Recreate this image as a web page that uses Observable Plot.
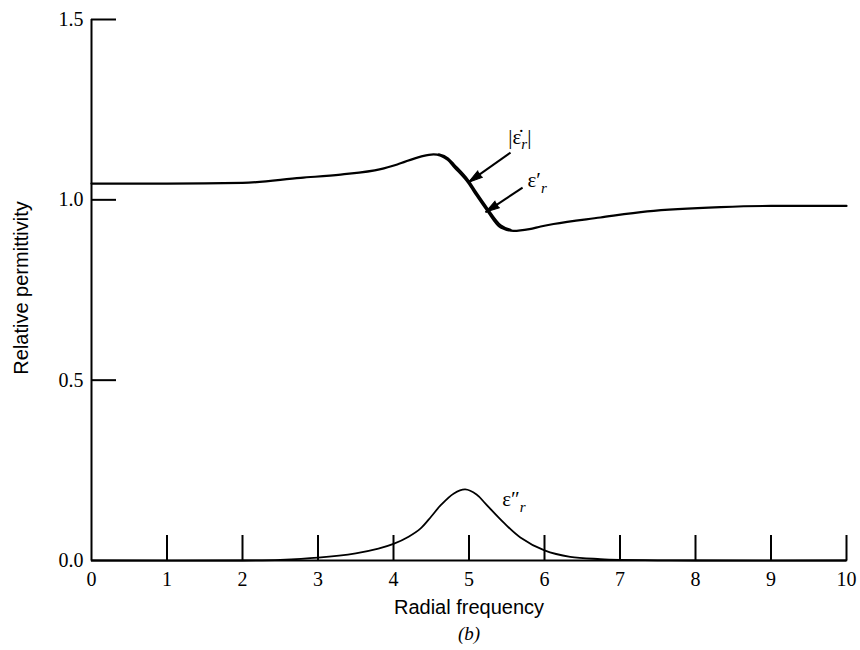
<!DOCTYPE html>
<html>
<head>
<meta charset="utf-8">
<script src="https://cdn.jsdelivr.net/npm/d3@7"></script>
<script src="https://cdn.jsdelivr.net/npm/@observablehq/plot@0.6"></script>
<style>
  body { margin: 0; background: #fff; }
  #chart { width: 860px; height: 650px; }
</style>
</head>
<body>
<div id="chart"></div>
<script>
// ---- data ----
const xTickValues = [1, 2, 3, 4, 5, 6, 7, 8, 9, 10];
const xTickLabels = [0, 1, 2, 3, 4, 5, 6, 7, 8, 9, 10];
const yTickValues = [0.5, 1.0, 1.5];
const yTickLabels = [0.0, 0.5, 1.0, 1.5];

// real part of relative permittivity (eps'_r)
const primeX = [0, 1, 2, 2.77, 3.3, 3.83, 4.05, 4.36, 4.53, 4.72, 4.8, 4.99, 5.1, 5.24, 5.42, 5.59, 5.8, 5.95, 6.12, 6.74, 7.36, 8.33, 9, 10];
const primeY = [1.045, 1.045, 1.047, 1.061, 1.070, 1.085, 1.098, 1.120, 1.126, 1.111, 1.092, 1.047, 1.012, 0.970, 0.923, 0.914, 0.919, 0.926, 0.933, 0.951, 0.968, 0.980, 0.983, 0.983];

// magnitude |eps_r| (separates slightly from eps'_r near resonance)
const absX = [4.6, 4.72, 4.8, 4.99, 5.1, 5.24, 5.42, 5.55];
const absY = [1.126, 1.115, 1.098, 1.054, 1.019, 0.977, 0.929, 0.917];

// imaginary part (eps''_r)
const lossX = [0, 2, 2.5, 3, 3.5, 3.8, 4, 4.2, 4.36, 4.5, 4.62, 4.8, 4.95, 5.1, 5.23, 5.46, 5.68, 6, 6.34, 6.74, 7, 7.5, 8, 10];
const lossY = [0, 0, 0.002, 0.008, 0.02, 0.033, 0.046, 0.066, 0.089, 0.122, 0.152, 0.186, 0.197, 0.183, 0.155, 0.105, 0.064, 0.028, 0.010, 0.004, 0.002, 0.0005, 0, 0];

// annotations
const labelTexts = ["|ε̇r|", "ε′r", "ε″r"];
const labelX = [5.52, 5.775, 5.44];
const labelY = [1.174, 1.055, 0.170];

const arrowX1 = [5.55, 5.71];
const arrowY1 = [1.131, 1.034];
const arrowX2 = [4.996, 5.22];
const arrowY2 = [1.049, 0.966];

const xTitle = "Radial frequency";
const yTitle = "Relative permittivity";
const caption = "(b)";

// ---- build tables ----
const primeData = primeX.map((x, i) => ({x, y: primeY[i]}));
const absData = absX.map((x, i) => ({x, y: absY[i]}));
const lossData = lossX.map((x, i) => ({x, y: lossY[i]}));
const labelData = labelTexts.map((t, i) => ({t, x: labelX[i], y: labelY[i]}));

const width = 860, height = 650;
const mTop = 19, mBottom = 90, mLeft = 91, mRight = 14;
const tickLenPx = 25;
const yPerPx = 1.5 / (height - mTop - mBottom);
const xPerPx = 10 / (width - mLeft - mRight);

const arrowData = arrowX1.map((x1, i) => {
  const d = {x1, y1: arrowY1[i], x2: arrowX2[i], y2: arrowY2[i]};
  const px = (d.x2 - d.x1) / xPerPx, py = -(d.y2 - d.y1) / yPerPx;
  d.angle = Math.atan2(px, -py) * 180 / Math.PI;
  return d;
});

const serif = "'Liberation Serif', 'DejaVu Serif', 'Times New Roman', serif";
const sans = "'Liberation Sans', Arial, Helvetica, sans-serif";

const plot = Plot.plot({
  width, height,
  marginTop: mTop, marginBottom: mBottom, marginLeft: mLeft, marginRight: mRight,
  style: {fontFamily: serif, background: "#fff", color: "#000"},
  x: {domain: [0, 10]},
  y: {domain: [0, 1.5]},
  marks: [
    // axis lines
    Plot.ruleY([0], {x1: 0, x2: 10, strokeWidth: 2}),
    Plot.ruleX([0], {y1: 0, y2: 1.5, strokeWidth: 2}),
    // inward ticks
    Plot.ruleX(xTickValues, {x: d => d, y1: 0, y2: tickLenPx * yPerPx, strokeWidth: 2}),
    Plot.ruleY(yTickValues, {y: d => d, x1: 0, x2: tickLenPx * xPerPx, strokeWidth: 2}),
    // tick labels
    Plot.axisX({ticks: xTickLabels, tickSize: 0, tickPadding: 11, fontSize: 20, fontFamily: serif, tickFormat: d3.format("d")}),
    Plot.axisY({ticks: yTickLabels, tickSize: 0, tickPadding: 8, fontSize: 20, fontFamily: serif, tickFormat: d3.format(".1f"), label: null}),
    // curves
    Plot.line(lossData, {x: "x", y: "y", curve: "catmull-rom", strokeWidth: 1.8}),
    Plot.line(primeData, {x: "x", y: "y", curve: "monotone-x", strokeWidth: 2.2}),
    Plot.line(absData, {x: "x", y: "y", curve: "monotone-x", strokeWidth: 2.2}),
    // arrows: shaft + filled head
    Plot.link(arrowData, {x1: "x1", y1: "y1", x2: "x2", y2: "y2", strokeWidth: 2}),
    Plot.vector(arrowData, {x: "x2", y: "y2", rotate: "angle", length: 14, anchor: "end", shape: "spike", r: 4, fill: "#000", fillOpacity: 1, stroke: "#000", strokeWidth: 1}),
    // curve labels
    Plot.text(labelData, {x: "x", y: "y", text: "t", textAnchor: "start", fontSize: 21, fontFamily: serif}),
    // axis titles & caption
    Plot.text([yTitle], {frameAnchor: "left", textAnchor: "middle", lineAnchor: "middle", dx: -70, dy: -2, rotate: -90, fontSize: 20, fontFamily: sans}),
    Plot.text([xTitle], {frameAnchor: "bottom", textAnchor: "middle", lineAnchor: "middle", dy: 47, fontSize: 20, fontFamily: sans}),
    Plot.text([caption], {frameAnchor: "bottom", textAnchor: "middle", lineAnchor: "middle", dy: 73, fontSize: 19, fontFamily: serif, fontStyle: "italic"})
  ]
});

// subscripts for curve labels
d3.select(plot).selectAll("text").each(function () {
  const t = this.textContent;
  if (!labelTexts.includes(t)) return;
  const el = d3.select(this);
  el.text(null);
  if (t === "|ε̇r|") {
    el.append("tspan").text("|ε̇");
    el.append("tspan").attr("dy", "5px").attr("font-size", "15px").attr("font-style", "italic").text("r");
    el.append("tspan").attr("dy", "-5px").text("|");
  } else {
    el.append("tspan").text(t.slice(0, 2));
    el.append("tspan").attr("dy", "6px").attr("dx", "0px").attr("font-size", "15px").attr("font-style", "italic").text("r");
  }
});

document.getElementById("chart").appendChild(plot);
</script>
</body>
</html>
